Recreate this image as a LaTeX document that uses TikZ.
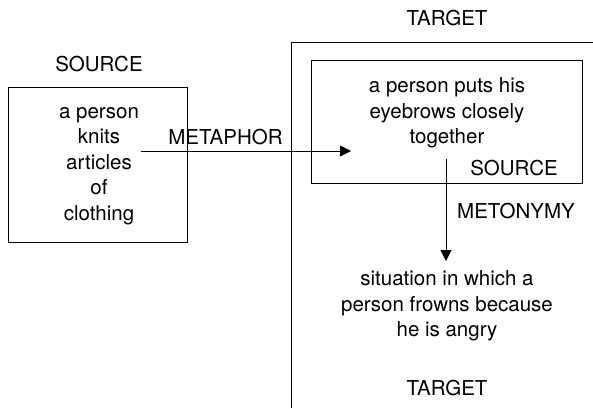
\documentclass[tikz,border=0pt]{standalone}
\usepackage{fontspec}
\setmainfont{TeX Gyre Heros}
\usetikzlibrary{arrows.meta}
\begin{document}
\begin{tikzpicture}[x=1pt,y=-1pt,
  txt/.style={font=\fontsize{20.5}{25.5}\selectfont, align=center, inner sep=0pt},
  frame/.style={draw, line width=0.9pt},
  conn/.style={line width=0.9pt, -{Triangle[length=11pt,width=11pt]}}]
\useasboundingbox (0,0) rectangle (593,408);
% outer target frame
\coordinate (fbl) at (291,408);
\coordinate (ftl) at (291,42);
\coordinate (ftr) at (593,42);
\draw[line width=0.9pt] (fbl) -- (ftl) -- (ftr);
% left source box
\node[frame, minimum width=179pt, minimum height=155pt, inner sep=0pt] (srcA) at (97.5,164.5) {};
\node[txt] (srcAtext) at (99,166) {a person\\knits\\articles\\of\\clothing};
\node[txt] (srcAlbl) at (99,64) {SOURCE};
% inner source box
\node[frame, minimum width=271pt, minimum height=123pt, inner sep=0pt] (srcB) at (446.5,121.5) {};
\node[txt] (srcBtext) at (447,113) {a person puts his\\eyebrows closely\\together};
\node[txt] (srcBlbl) at (514,168) {SOURCE};
% target labels
\node[txt] (tgtTop) at (447,18) {TARGET};
\node[txt] (tgtText) at (447,306) {situation in which a\\person frowns because\\he is angry};
\node[txt] (tgtBot) at (447,388) {TARGET};
% metaphor
\coordinate (mA) at (141,151);
\coordinate (mB) at (351,151);
\draw[conn] (mA) -- (mB);
\node[txt] (metaphor) at (225.5,137) {METAPHOR};
% metonymy
\coordinate (nA) at (446,159);
\coordinate (nB) at (446,261);
\draw[conn] (nA) -- (nB);
\node[txt] (metonymy) at (516,211) {METONYMY};
\end{tikzpicture}
\end{document}
